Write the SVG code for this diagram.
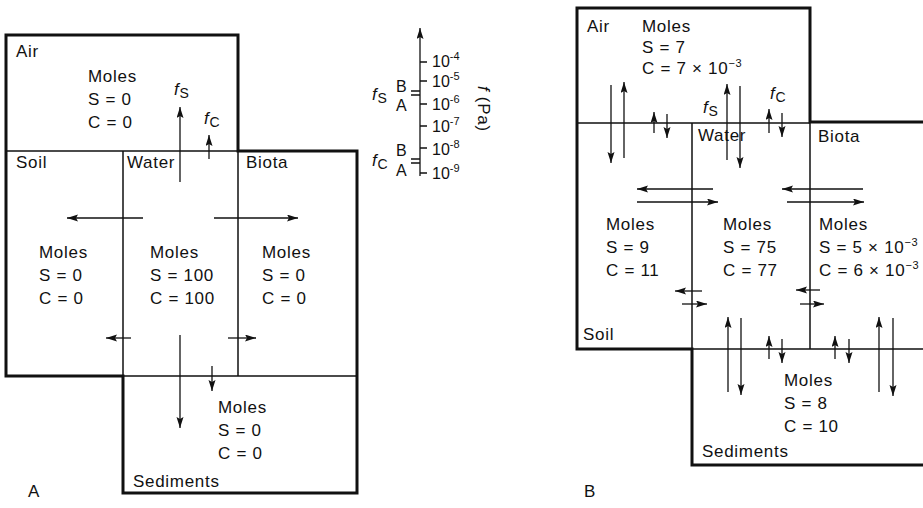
<svg xmlns="http://www.w3.org/2000/svg" width="923" height="508" viewBox="0 0 923 508">
<style>
text{font-family:"Liberation Sans",Arial,sans-serif;font-size:17px;letter-spacing:0.7px;fill:#111}
.sm{font-size:14px;letter-spacing:0}
.it{font-style:italic}
.sc{font-size:16px;letter-spacing:0}
.ba{font-size:16px;letter-spacing:0}
.thick{fill:none;stroke:#111;stroke-width:3}
.thin{fill:none;stroke:#111;stroke-width:1.5}
.arr{fill:none;stroke:#111;stroke-width:1.3;marker-end:url(#ah)}
.ln{fill:none;stroke:#111;stroke-width:1.3}
</style>
<defs>
<marker id="ah" markerUnits="userSpaceOnUse" markerWidth="12" markerHeight="8" refX="11" refY="3.5" orient="auto">
<path d="M0,0 L11,3.5 L0,7 L2,3.5 z" fill="#111"/>
</marker>
</defs>

<!-- Panel A frame -->
<g id="frameA">
<path class="thick" d="M6,35 H238 V151 H357 V493 H123 V376 H6 Z"/>
<path class="thin" d="M6,151 H238 M123,151 V376 M238,151 V376 M123,376 H357"/>
</g>
<g id="A-air">
<text x="16" y="57">Air</text>
<text x="88" y="82">Moles</text>
<text x="88" y="105">S = 0</text>
<text x="88" y="128">C = 0</text>
</g>
<g id="A-soil">
<text x="16" y="168">Soil</text>
<text x="39" y="258">Moles</text>
<text x="39" y="281">S = 0</text>
<text x="39" y="304">C = 0</text>
</g>
<g id="A-water">
<text x="127" y="168">Water</text>
<text x="150" y="258">Moles</text>
<text x="150" y="281">S = 100</text>
<text x="150" y="304">C = 100</text>
</g>
<g id="A-biota">
<text x="246" y="168">Biota</text>
<text x="262" y="258">Moles</text>
<text x="262" y="281">S = 0</text>
<text x="262" y="304">C = 0</text>
</g>
<g id="A-sediments">
<text x="218" y="413">Moles</text>
<text x="218" y="436">S = 0</text>
<text x="218" y="459">C = 0</text>
<text x="133" y="487">Sediments</text>
</g>
<text x="28" y="497">A</text>

<g id="connectorsA">
<path class="arr" d="M180,182 V107"/>
<path class="arr" d="M209,159 V135"/>
<path class="arr" d="M143,218 H67"/>
<path class="arr" d="M214,218 H298"/>
<path class="arr" d="M131,338 H106"/>
<path class="arr" d="M228,338 H256"/>
<path class="arr" d="M180,335 V428"/>
<path class="arr" d="M212,366 V391"/>
</g>
<g id="A-flux-labels">
<text class="it" x="174" y="95">f<tspan class="sm" font-style="normal" dy="3">S</tspan></text>
<text class="it" x="204" y="124">f<tspan class="sm" font-style="normal" dy="3">C</tspan></text>
</g>

<!-- Scale -->
<g id="scale">
<path class="arr" d="M420,176 V28"/>
<path class="ln" d="M420,62 H427 M420,81 H427 M420,104 H427 M420,126 H427 M420,148 H427 M420,173 H427"/>
<path class="ln" d="M411,91 H420 M411,95 H420 M411,159 H420 M411,163 H420"/>
<text class="sc" x="432" y="67">10<tspan font-size="11" dy="-7">-4</tspan></text>
<text class="sc" x="432" y="87">10<tspan font-size="11" dy="-7">-5</tspan></text>
<text class="sc" x="432" y="110">10<tspan font-size="11" dy="-7">-6</tspan></text>
<text class="sc" x="432" y="132">10<tspan font-size="11" dy="-7">-7</tspan></text>
<text class="sc" x="432" y="155">10<tspan font-size="11" dy="-7">-8</tspan></text>
<text class="sc" x="432" y="179">10<tspan font-size="11" dy="-7">-9</tspan></text>
<text class="ba" x="396" y="92">B</text>
<text class="ba" x="396" y="111">A</text>
<text class="ba" x="396" y="156">B</text>
<text class="ba" x="396" y="176">A</text>
<text class="it" x="372" y="100">f<tspan class="sm" font-style="normal" dy="3">S</tspan></text>
<text class="it" x="372" y="166">f<tspan class="sm" font-style="normal" dy="3">C</tspan></text>
<text transform="translate(478,86) rotate(90)"><tspan class="it">f</tspan> (Pa)</text>
</g>

<!-- Panel B frame -->
<g id="frameB">
<path class="thick" d="M923,122 H810 V8 H577 V349 H692 V465 H923"/>
<path class="thin" d="M577,123 H810 M692,123 V349 M810,122 V349 M692,349 H923"/>
</g>
<g id="B-air">
<text x="587" y="32">Air</text>
<text x="642" y="32">Moles</text>
<text x="642" y="53">S = 7</text>
<text x="642" y="74">C = 7 × 10<tspan font-size="11" dy="-7">−3</tspan></text>
</g>
<g id="B-soil">
<text x="606" y="230">Moles</text>
<text x="606" y="253">S = 9</text>
<text x="606" y="276">C = 11</text>
<text x="583" y="340">Soil</text>
</g>
<g id="B-water">
<text x="698" y="141">Water</text>
<text x="723" y="230">Moles</text>
<text x="723" y="253">S = 75</text>
<text x="723" y="276">C = 77</text>
</g>
<g id="B-biota">
<text x="818" y="142">Biota</text>
<text x="819" y="230">Moles</text>
<text x="819" y="253">S = 5 × 10<tspan font-size="11" dy="-7">−3</tspan></text>
<text x="819" y="276">C = 6 × 10<tspan font-size="11" dy="-7">−3</tspan></text>
</g>
<g id="B-sediments">
<text x="784" y="386">Moles</text>
<text x="784" y="409">S = 8</text>
<text x="784" y="432">C = 10</text>
<text x="702" y="457">Sediments</text>
</g>
<text x="584" y="497">B</text>

<g id="connectorsB">
<path class="arr" d="M611,85 V163"/>
<path class="arr" d="M624,158 V82"/>
<path class="arr" d="M654,133 V112"/>
<path class="arr" d="M667,114 V138"/>
<path class="arr" d="M727,160 V84"/>
<path class="arr" d="M740,86 V168"/>
<path class="arr" d="M769,133 V109"/>
<path class="arr" d="M782,113 V137"/>
<path class="arr" d="M713,189 H637"/>
<path class="arr" d="M637,202 H718"/>
<path class="arr" d="M863,189 H782"/>
<path class="arr" d="M787,202 H864"/>
<path class="arr" d="M702,291 H675"/>
<path class="arr" d="M682,304 H707"/>
<path class="arr" d="M820,290 H796"/>
<path class="arr" d="M800,304 H824"/>
<path class="arr" d="M728,392 V317"/>
<path class="arr" d="M741,318 V395"/>
<path class="arr" d="M769,359 V336"/>
<path class="arr" d="M782,339 V363"/>
<path class="arr" d="M835,359 V336"/>
<path class="arr" d="M849,339 V363"/>
<path class="arr" d="M879,392 V317"/>
<path class="arr" d="M893,318 V396"/>
</g>
<g id="B-flux-labels">
<text class="it" x="703" y="113">f<tspan class="sm" font-style="normal" dy="3">S</tspan></text>
<text class="it" x="770" y="99">f<tspan class="sm" font-style="normal" dy="3">C</tspan></text>
</g>
</svg>
